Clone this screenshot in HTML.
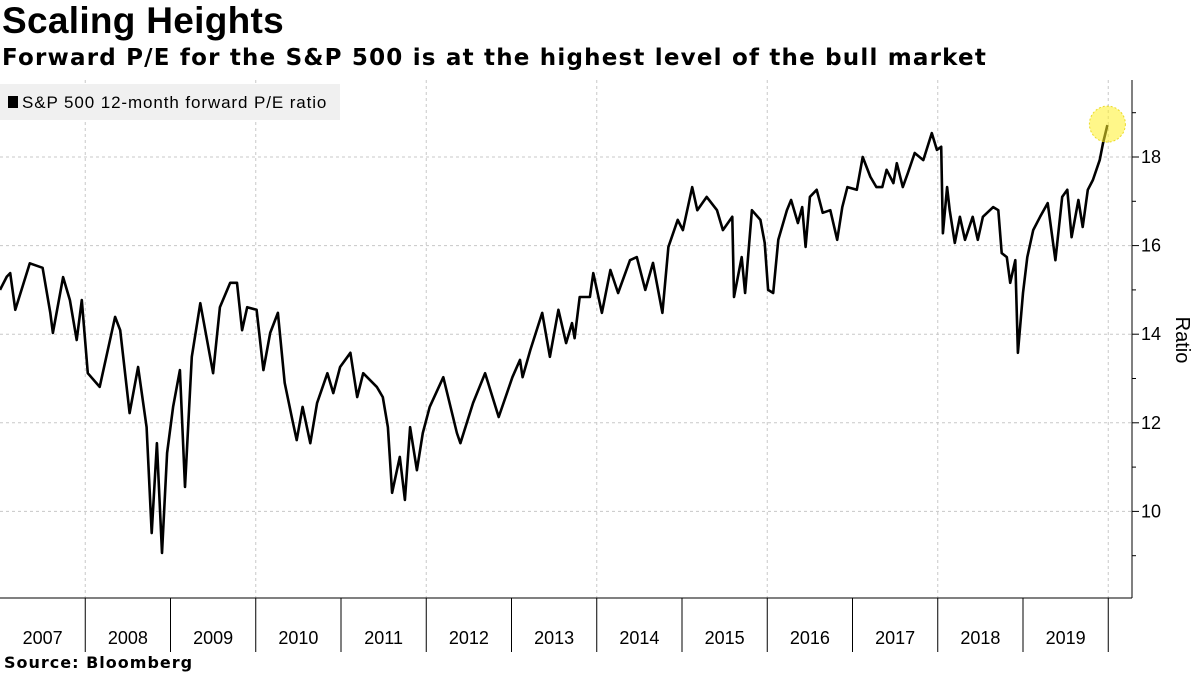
<!DOCTYPE html>
<html><head><meta charset="utf-8"><style>
body{margin:0;width:1200px;height:675px;background:#fff;overflow:hidden;font-family:"Liberation Sans",sans-serif}
#title{position:absolute;left:2px;top:0px;font:bold 37px "Liberation Sans",sans-serif;color:#000;letter-spacing:0.3px}
#subtitle{position:absolute;left:2px;top:45px;font:bold 23px "DejaVu Sans",sans-serif;color:#000;letter-spacing:1.2px}
#source{position:absolute;left:4px;top:653px;font:bold 16px "DejaVu Sans",sans-serif;color:#000;letter-spacing:1px}
svg{position:absolute;left:0;top:0}
</style></head><body>
<div id="title">Scaling Heights</div>
<div id="subtitle">Forward P/E for the S&amp;P 500 is at the highest level of the bull market</div>
<div id="source">Source: Bloomberg</div>
<svg id="chart" width="1200" height="675"></svg>
<script>
const dates=[2007.00,2007.08,2007.12,2007.18,2007.35,2007.50,2007.59,2007.62,2007.74,2007.82,2007.90,2007.96,2008.03,2008.17,2008.35,2008.41,2008.52,2008.62,2008.72,2008.78,2008.84,2008.90,2008.96,2009.03,2009.11,2009.17,2009.25,2009.35,2009.50,2009.58,2009.70,2009.78,2009.84,2009.90,2010.01,2010.09,2010.17,2010.26,2010.34,2010.43,2010.48,2010.55,2010.64,2010.72,2010.84,2010.91,2010.99,2011.11,2011.19,2011.26,2011.42,2011.49,2011.55,2011.60,2011.69,2011.75,2011.81,2011.89,2011.96,2012.04,2012.20,2012.36,2012.40,2012.55,2012.69,2012.85,2013.01,2013.10,2013.13,2013.22,2013.36,2013.45,2013.55,2013.64,2013.71,2013.74,2013.80,2013.92,2013.96,2014.06,2014.16,2014.25,2014.39,2014.47,2014.57,2014.66,2014.77,2014.84,2014.95,2015.01,2015.12,2015.18,2015.29,2015.41,2015.48,2015.59,2015.61,2015.70,2015.74,2015.82,2015.92,2015.97,2016.01,2016.07,2016.13,2016.23,2016.28,2016.36,2016.41,2016.45,2016.50,2016.58,2016.65,2016.74,2016.82,2016.88,2016.94,2017.05,2017.12,2017.21,2017.28,2017.35,2017.40,2017.48,2017.52,2017.59,2017.65,2017.73,2017.83,2017.93,2017.99,2018.04,2018.06,2018.11,2018.14,2018.20,2018.26,2018.32,2018.41,2018.47,2018.53,2018.65,2018.71,2018.75,2018.81,2018.85,2018.91,2018.94,2019.00,2019.05,2019.12,2019.20,2019.29,2019.38,2019.46,2019.52,2019.57,2019.65,2019.70,2019.76,2019.82,2019.90,2019.94,2019.99];
const peValues=[15.0,15.3,15.38,14.55,15.6,15.5,14.48,14.03,15.29,14.77,13.87,14.77,13.12,12.81,14.39,14.09,12.22,13.26,11.9,9.51,11.54,9.06,11.32,12.36,13.19,10.55,13.49,14.7,13.12,14.61,15.16,15.16,14.09,14.61,14.55,13.19,14.03,14.48,12.9,12.06,11.61,12.36,11.54,12.45,13.12,12.67,13.26,13.58,12.58,13.12,12.81,12.58,11.9,10.42,11.23,10.26,11.9,10.93,11.77,12.36,13.03,11.77,11.54,12.45,13.12,12.13,13.03,13.42,13.03,13.64,14.48,13.49,14.55,13.8,14.25,13.91,14.84,14.84,15.38,14.48,15.45,14.93,15.67,15.74,15.0,15.61,14.48,15.97,16.58,16.35,17.32,16.8,17.1,16.8,16.35,16.65,14.84,15.74,14.93,16.8,16.58,16.06,15.0,14.93,16.13,16.8,17.03,16.51,16.87,15.97,17.1,17.26,16.74,16.8,16.13,16.87,17.32,17.26,18.0,17.55,17.32,17.32,17.71,17.41,17.86,17.32,17.64,18.09,17.93,18.54,18.16,18.23,16.28,17.32,16.8,16.06,16.65,16.13,16.65,16.13,16.65,16.87,16.8,15.83,15.74,15.16,15.67,13.58,14.93,15.74,16.35,16.65,16.96,15.67,17.1,17.26,16.19,17.03,16.42,17.26,17.48,17.93,18.32,18.72];
const yTicks=[10,12,14,16,18];
const yMinorTicks=[9,11,13,15,17,19];
const yearLabels=["2007","2008","2009","2010","2011","2012","2013","2014","2015","2016","2017","2018","2019"];
const gridYears=[2008,2010,2012,2014,2016,2018,2020];

const NS="http://www.w3.org/2000/svg";
const svg=document.getElementById('chart');
const X0=0,PW=85.25,plotR=1132,plotT=80,plotB=598;
const xs=t=>X0+(t-2007)*PW;
const ys=v=>157+(18-v)*44.3;
function mk(tag,attrs,parent){const e=document.createElementNS(NS,tag);for(const k in attrs)e.setAttribute(k,attrs[k]);(parent||svg).appendChild(e);return e;}

yTicks.forEach(v=>{const l=mk('line',{x1:0,x2:plotR,y1:ys(v),y2:ys(v),stroke:'#c8c8c8','stroke-dasharray':'3,3','stroke-width':1});

});
gridYears.forEach(y=>{const l=mk('line',{x1:xs(y),x2:xs(y),y1:plotT,y2:plotB,stroke:'#c8c8c8','stroke-dasharray':'3,3','stroke-width':1});

});

const ax=mk('line',{x1:plotR,x2:plotR,y1:plotT,y2:plotB,stroke:'#000','stroke-width':1});


const bx=mk('line',{x1:0,x2:plotR,y1:plotB,y2:plotB,stroke:'#000','stroke-width':1});


yTicks.forEach(v=>{mk('line',{x1:plotR,x2:plotR+7,y1:ys(v),y2:ys(v),stroke:'#000'});
const t=mk('text',{x:plotR+9,y:ys(v)+6,'font-size':18,'font-family':'Liberation Sans, sans-serif',fill:'#000'});
t.textContent=v;

});
yMinorTicks.forEach(v=>{mk('line',{x1:plotR,x2:plotR+4,y1:ys(v),y2:ys(v),stroke:'#000'});});
const yt=mk('text',{x:1176,y:340,'font-size':20,'font-family':'Liberation Sans, sans-serif',fill:'#000',transform:'rotate(90 1176 340)','text-anchor':'middle'});
yt.textContent='Ratio';



yearLabels.forEach((lab,i)=>{const yr=2007+i;
if(i>0){const s=mk('line',{x1:xs(yr),x2:xs(yr),y1:plotB,y2:652,stroke:'#000','stroke-width':1});

}
const t=mk('text',{x:xs(yr+0.5),y:644,'font-size':18,'font-family':'Liberation Sans, sans-serif','text-anchor':'middle',fill:'#000'});
t.textContent=lab;

});
const s2=mk('line',{x1:xs(2020),x2:xs(2020),y1:plotB,y2:652,stroke:'#000'});



const d=dates.map((t,i)=>(i?'L':'M')+xs(t).toFixed(1)+','+ys(peValues[i]).toFixed(1)).join(' ');
const p=mk('path',{d:d,fill:'none',stroke:'#000','stroke-width':2.6,'stroke-linejoin':'round'});



const li=dates.length-1;
const c=mk('circle',{cx:xs(dates[li]),cy:ys(peValues[li])-1,r:18,fill:'rgba(255,240,40,0.55)',stroke:'rgba(230,210,0,0.8)','stroke-dasharray':'2,2'});



const lg=mk('g',{});


mk('rect',{x:0,y:84,width:340,height:36,fill:'#f0f0f0'},lg);
mk('rect',{x:8,y:96,width:10,height:12,fill:'#000'},lg);
const lt=mk('text',{x:22,y:108,'font-size':17,'font-family':'Liberation Sans, sans-serif',fill:'#000','letter-spacing':'0.9'},lg);
lt.textContent='S&P 500 12-month forward P/E ratio';


</script>
</body></html>
